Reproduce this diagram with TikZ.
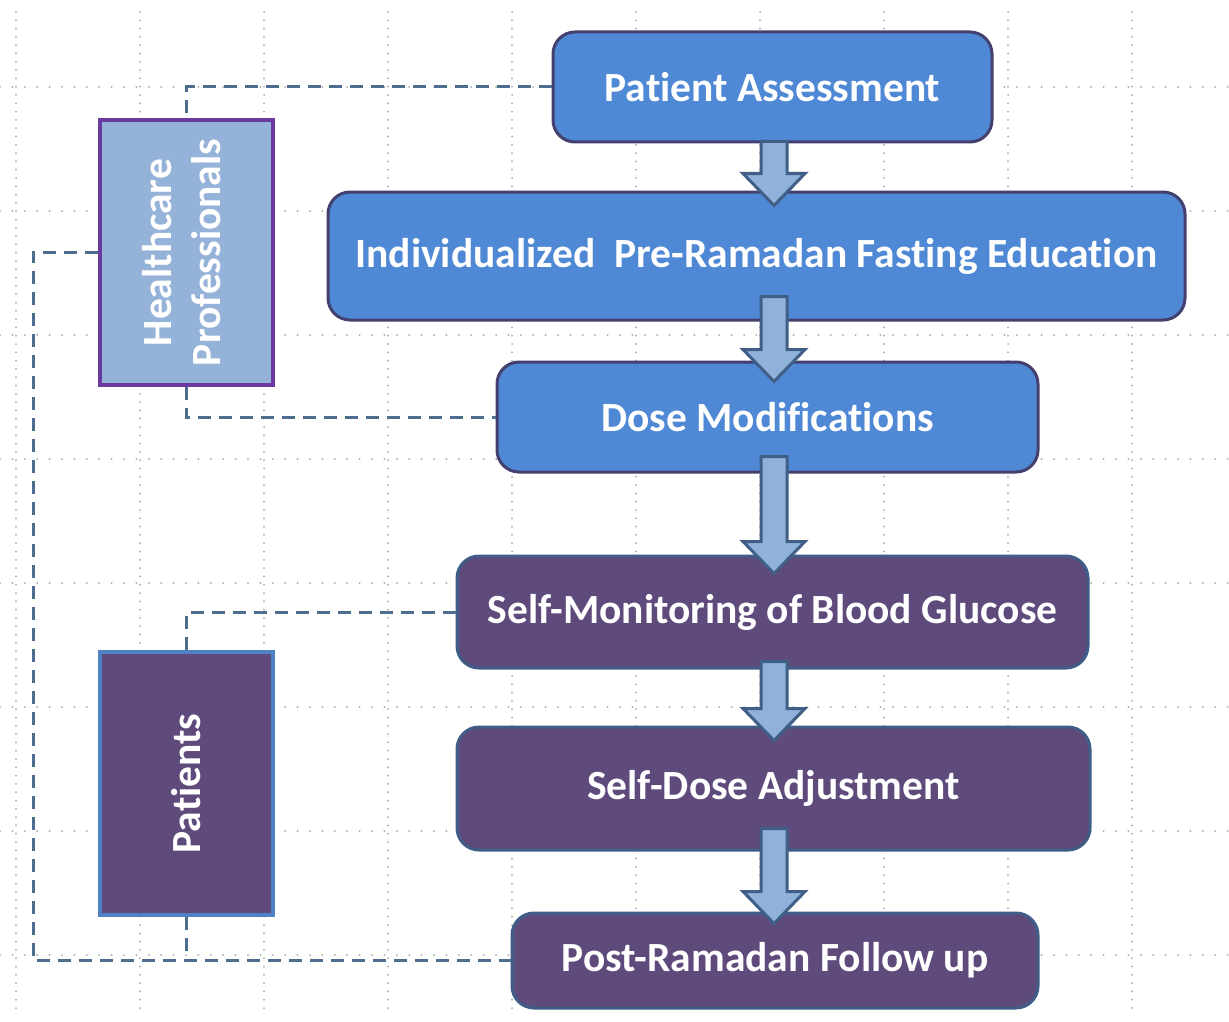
\documentclass[tikz,border=0pt]{standalone}
\usepackage{fontspec}
\setmainfont{Carlito}[Ligatures=CommonOff]
\usepackage{xcolor}
\usetikzlibrary{calc}

\definecolor{boxblue}{HTML}{4F88D5}
\definecolor{boxblueline}{HTML}{43406F}
\definecolor{boxpurple}{HTML}{5F4A7C}
\definecolor{boxpurpleline}{HTML}{3F5D87}
\definecolor{hcpfill}{HTML}{95B2D9}
\definecolor{hcpline}{HTML}{6B3A9E}
\definecolor{patline}{HTML}{4F81C4}
\definecolor{arrowfill}{HTML}{90B1DA}
\definecolor{arrowline}{HTML}{3F5F86}
\definecolor{dashline}{HTML}{4E6E90}
\definecolor{griddot}{HTML}{A8A8A8}

\newcommand{\blockarrow}[2]{%
    \draw[blockarrow] let \p1=#1, \p2=#2 in
        (\x1-13pt,\y1) -- (\x1-13pt,\y2+32pt) -- (\x1-31pt,\y2+32pt) -- (\x1,\y2)
        -- (\x1+31pt,\y2+32pt) -- (\x1+13pt,\y2+32pt) -- (\x1+13pt,\y1) -- cycle;}

\begin{document}
\begin{tikzpicture}[x=1pt, y=-1pt,
    every node/.style={font=\fontsize{41.5}{49}\selectfont\bfseries, text=white, inner sep=0pt, align=center},
    stepblue/.style={rectangle, rounded corners=22pt, fill=boxblue, draw=boxblueline, line width=3pt},
    steppurple/.style={rectangle, rounded corners=22pt, fill=boxpurple, draw=boxpurpleline, line width=3pt},
    rolebox/.style={rectangle, minimum width=173pt, line width=3.5pt},
    blockarrow/.style={fill=arrowfill, draw=arrowline, line width=3pt},
    conn/.style={draw=dashline, line width=3pt, dash pattern=on 13pt off 8pt},
    gridv/.style={griddot, line width=2pt, line cap=round, dash pattern=on 0pt off 8.3pt},
    gridh/.style={griddot, line width=2pt, line cap=round, dash pattern=on 0pt off 12.4pt}]
    \fill[white] (0,0) rectangle (1229,1022);
    \useasboundingbox (0,0) rectangle (1229,1022);

    \foreach \gx in {16,140,...,1132}
        \draw[gridv] (\gx,12) -- (\gx,1016);
    \foreach \gy in {87,211,...,955}
        \draw[gridh] (0,\gy) -- (1229,\gy);

    \node[stepblue, minimum width=439pt, minimum height=110pt] (pa) at (772.5,87) {Patient Assessment};
    \node[stepblue, minimum width=857pt, minimum height=128pt] (edu) at (756.5,256) {Individualized\hspace{0.45em}Pre-Ramadan Fasting Education};
    \node[stepblue, minimum width=541pt, minimum height=110pt] (dose) at (767.5,417) {Dose Modifications};
    \node[steppurple, minimum width=631pt, minimum height=112pt] (smbg) at (772.5,612) {Self-Monitoring of Blood Glucose};
    \node[steppurple, minimum width=633pt, minimum height=123pt] (sda) at (773.5,788.5) {Self-Dose Adjustment};
    \node[steppurple, minimum width=526pt, minimum height=95pt] (post) at (775,960.5) {Post-Ramadan Follow up};

    \node[rolebox, fill=hcpfill, draw=hcpline, minimum height=265pt] (hcp) at (186.5,252.5)
        {\rotatebox{90}{\begin{tabular}{@{}c@{}}Healthcare\\Professionals\end{tabular}}};
    \node[rolebox, fill=boxpurple, draw=patline, minimum height=263pt] (pat) at (186.5,783.5)
        {\rotatebox{90}{Patients}};

    \coordinate (ax) at (774,0);
    \coordinate (lft) at (33,0);

    \blockarrow{($(ax |- pa.south)+(0,-2)$)}{($(ax |- edu.north)+(0,15)$)}
    \blockarrow{($(ax |- edu.south)+(0,-25)$)}{($(ax |- dose.north)+(0,21)$)}
    \blockarrow{($(ax |- dose.south)+(0,-17)$)}{($(ax |- smbg.north)+(0,19)$)}
    \blockarrow{($(ax |- smbg.south)+(0,-8)$)}{($(ax |- sda.north)+(0,15)$)}
    \blockarrow{($(ax |- sda.south)+(0,-23)$)}{($(ax |- post.north)+(0,12)$)}

    \draw[conn] (pa.west) -| (hcp.north);
    \draw[conn] (hcp.south) |- (dose.west);
    \draw[conn] (hcp.west) -- (hcp.west -| lft) |- (post.west);
    \draw[conn] (smbg.west) -| (pat.north);
    \draw[conn] (pat.south) -- (pat.south |- post.west);
\end{tikzpicture}
\end{document}
